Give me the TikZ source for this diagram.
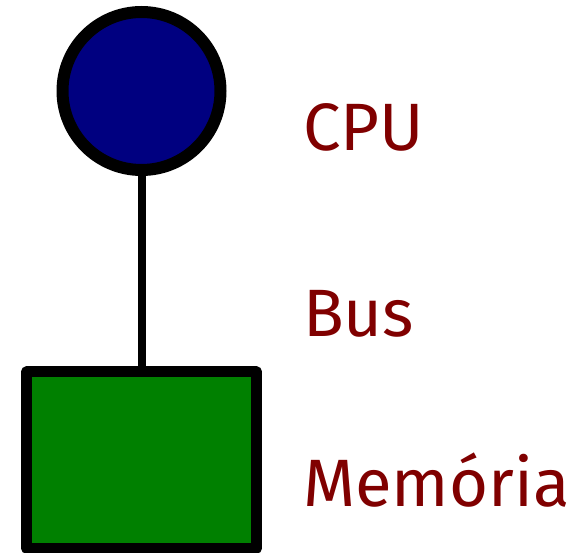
\documentclass[tikz,border=0pt]{standalone}
\usepackage{fontspec}
\setsansfont{Fira Sans}
\usepackage{xcolor}
\usepackage{tikz}
\usetikzlibrary{positioning}
\definecolor{cpublue}{HTML}{000080}
\definecolor{memgreen}{HTML}{008000}
\definecolor{lblred}{HTML}{800000}
\begin{document}
\begin{tikzpicture}[
  x=1pt, y=-1pt,
  unit/.style={draw=black, inner sep=0pt, line join=round},
  lbl/.style={anchor=base west, text=lblred, inner sep=0pt, font=\sffamily\fontsize{67}{80}\selectfont},
  bus/.style={draw=black, line width=8pt}
]
\useasboundingbox (0,0) rectangle (576,553);
\node[unit, circle, fill=cpublue, line width=12pt, minimum size=158pt] (cpu) at (141.5,91) {};
\node[unit, rectangle, fill=memgreen, line width=11pt, minimum width=230pt, minimum height=176pt] (mem) at (141.5,460) {};
\node[lbl] (cpulbl) at (303,151) {CPU};
\node[lbl] (buslbl) at (303,337) {Bus};
\node[lbl] (memlbl) at (303,506) {Memória};
\draw[bus] (cpu) -- (mem);
\end{tikzpicture}
\end{document}
